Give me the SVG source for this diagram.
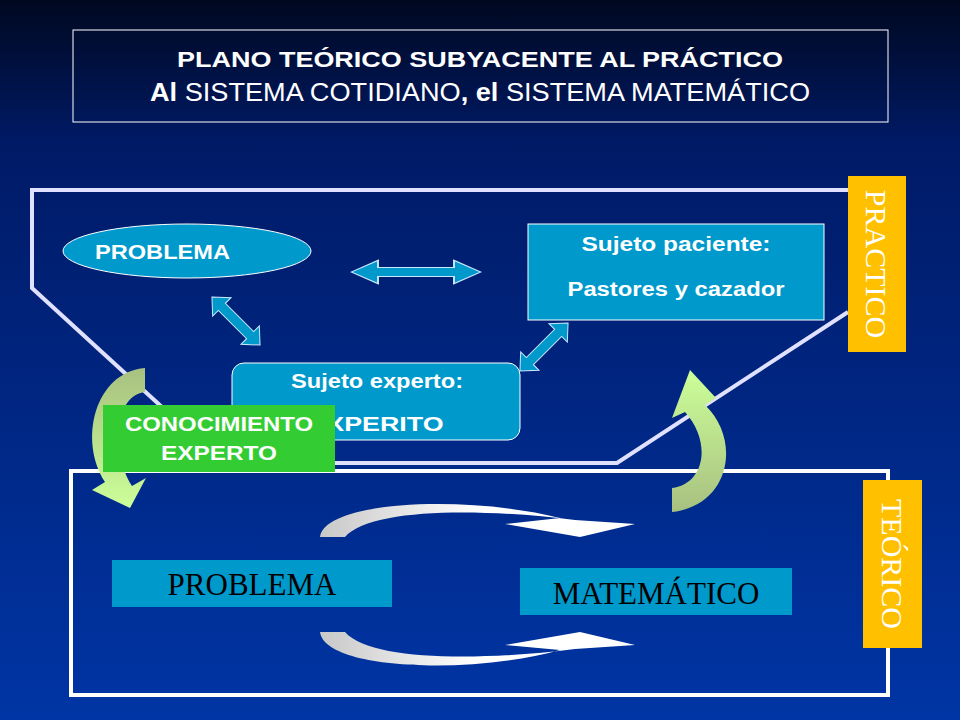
<svg xmlns="http://www.w3.org/2000/svg" width="960" height="720" viewBox="0 0 960 720">
<defs>
<linearGradient id="bg" x1="0" y1="0" x2="0" y2="1"><stop offset="0" stop-color="#000820"/><stop offset="0.2" stop-color="#001a66"/><stop offset="1" stop-color="#0035a5"/></linearGradient>
<linearGradient id="gl" x1="0" y1="0" x2="0" y2="1"><stop offset="0" stop-color="#a8c080"/><stop offset="1" stop-color="#ccff99"/></linearGradient>
<linearGradient id="gr" x1="0" y1="1" x2="0" y2="0"><stop offset="0" stop-color="#a8c080"/><stop offset="1" stop-color="#ccff99"/></linearGradient>
<linearGradient id="wg" x1="0" y1="0" x2="1" y2="0"><stop offset="0" stop-color="#c8c8c8"/><stop offset="0.5" stop-color="#ffffff"/></linearGradient>
<polygon id="da" points="-34,0 -20,-13 -20,-5 20,-5 20,-13 34,0 20,13 20,5 -20,5 -20,13"/>
<style>
.s{font-family:"Liberation Sans",Arial,sans-serif;font-weight:bold;fill:#fff}
.r{font-family:"Liberation Serif","Times New Roman",serif}
.box{fill:#0099cc;stroke:#fff;stroke-width:1}
.arr{fill:#0099cc;stroke:#cce8ff;stroke-width:1}
</style>
</defs>
<rect width="960" height="720" fill="url(#bg)"/>
<g id="title">
<rect x="73" y="30" width="815" height="92" fill="none" stroke="#fff" stroke-width="1"/>
<text x="480" y="67" text-anchor="middle" class="s" font-size="22" textLength="606" lengthAdjust="spacingAndGlyphs">PLANO TEÓRICO SUBYACENTE AL PRÁCTICO</text>
<text x="480" y="101" text-anchor="middle" font-family="Liberation Sans,Arial,sans-serif" font-size="25" fill="#fff" textLength="660" lengthAdjust="spacingAndGlyphs"><tspan font-weight="bold">Al</tspan> SISTEMA COTIDIANO<tspan font-weight="bold">, el</tspan> SISTEMA  MATEMÁTICO</text>
</g>
<g id="frames" fill="none">
<polyline points="848,190 32,190 32,288 223,463 617,463 848,312" stroke="#e0e0ff" stroke-width="4"/>
<rect x="71" y="471" width="817" height="224" stroke="#fff" stroke-width="4"/>
</g>
<g id="practico"><rect x="848" y="176" width="58" height="176" fill="#ffc000"/>
<text transform="translate(866,264) rotate(90)" text-anchor="middle" class="r" font-size="30" fill="#fff">PRACTICO</text></g>
<g id="teorico"><rect x="863" y="480" width="59" height="168" fill="#ffc000"/>
<text transform="translate(882,564) rotate(90)" text-anchor="middle" class="r" font-size="30" fill="#fff">TEÓRICO</text></g>
<g id="connectors">
<use href="#da" class="arr" transform="translate(416,272) scale(1.9,0.9)"/>
<use href="#da" class="arr" transform="translate(236,321) rotate(45)"/>
<use href="#da" class="arr" transform="translate(544,347) rotate(-45)"/>
<path d="M145,368 C95,372 78,440 105,482 L92,490 L130,508 L146,478 L132,486 C110,450 115,395 145,392 Z" fill="url(#gl)"/>
<path d="M672,512 C730,506 742,440 705,405 L716,398 L690,370 L672,418 L685,412 C712,442 705,484 672,488 Z" fill="url(#gr)"/>
<path d="M320,537 C325,500 470,495 560,518 L505,524 L580,537 L635,524 L575,520 C480,508 370,508 345,537 Z" fill="url(#wg)"/>
<path d="M320,632 C325,670 470,675 560,650 L505,645 L580,632 L635,645 L575,649 C480,661 370,661 345,632 Z" fill="url(#wg)"/>
</g>
<g id="problema-e"><ellipse cx="187" cy="251" rx="124" ry="27" class="box"/>
<text x="95" y="259" class="s" font-size="21" textLength="135" lengthAdjust="spacingAndGlyphs">PROBLEMA</text></g>
<g id="paciente"><rect x="528" y="224" width="296" height="96" class="box"/>
<text x="676" y="251" text-anchor="middle" class="s" font-size="20" textLength="189" lengthAdjust="spacingAndGlyphs">Sujeto paciente:</text>
<text x="676" y="296" text-anchor="middle" class="s" font-size="20" textLength="217" lengthAdjust="spacingAndGlyphs">Pastores y cazador</text></g>
<g id="experto"><rect x="232" y="363" width="288" height="77" rx="12" class="box"/>
<text x="377" y="388" text-anchor="middle" class="s" font-size="20" textLength="172" lengthAdjust="spacingAndGlyphs">Sujeto experto:</text>
<text x="376" y="431" text-anchor="middle" class="s" font-size="20" textLength="135" lengthAdjust="spacingAndGlyphs">EXPERITO</text></g>
<g id="conocimiento"><rect x="103" y="405" width="232" height="67" fill="#33cc33"/>
<text x="219" y="431" text-anchor="middle" class="s" font-size="20" textLength="188" lengthAdjust="spacingAndGlyphs">CONOCIMIENTO</text>
<text x="219" y="460" text-anchor="middle" class="s" font-size="20" textLength="116" lengthAdjust="spacingAndGlyphs">EXPERTO</text></g>
<g id="problema-t"><rect x="112" y="560" width="280" height="47" fill="#0099cc"/>
<text x="252" y="595" text-anchor="middle" class="r" font-size="31" fill="#000">PROBLEMA</text></g>
<g id="matematico"><rect x="520" y="568" width="272" height="47" fill="#0099cc"/>
<text x="656" y="604" text-anchor="middle" class="r" font-size="31" fill="#000">MATEMÁTICO</text></g>
</svg>
